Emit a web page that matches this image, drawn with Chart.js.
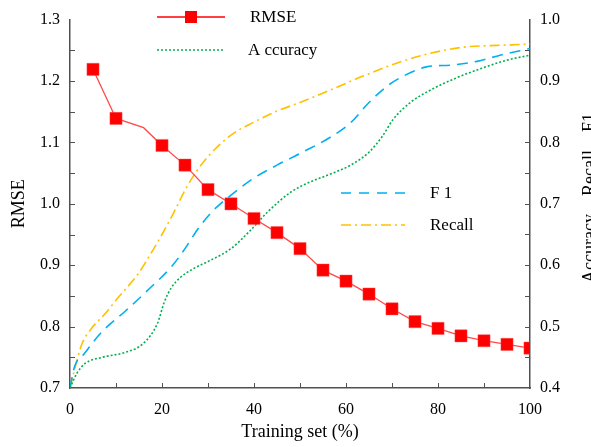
<!DOCTYPE html>
<html>
<head>
<meta charset="utf-8">
<script src="https://cdn.jsdelivr.net/npm/chart.js@4"></script>
<style>
  html, body { margin: 0; padding: 0; background: #fff; }
  canvas { display: block; }
</style>
</head>
<body>
<canvas id="chart" width="591" height="447"></canvas>
<script>
// RMSE (left axis)
const rmseX = [5, 10, 16, 20, 25, 30, 35, 40, 45, 50, 55, 60, 65, 70, 75, 80, 85, 90, 95, 100]
const rmseY = [1.219, 1.139, 1.124, 1.095, 1.063, 1.023, 1.0, 0.976, 0.953, 0.927, 0.892, 0.874, 0.853, 0.829, 0.808, 0.797, 0.785, 0.777, 0.771, 0.765]

// right axis curves
const accX = [0, 1.5, 3.3, 7, 12, 16, 19, 20.5, 22, 24, 27, 30, 35, 39, 43, 48, 52, 56.5, 61, 65, 68, 70.2, 74, 78.3, 84, 90, 95, 100]
const accY = [0.40, 0.424, 0.44, 0.45, 0.458, 0.473, 0.505, 0.54, 0.563, 0.58, 0.595, 0.606, 0.627, 0.655, 0.687, 0.719, 0.735, 0.748, 0.763, 0.784, 0.811, 0.837, 0.865, 0.885, 0.905, 0.922, 0.934, 0.942]

const f1X = [0, 1, 3, 7, 12, 17, 22, 25, 28, 31, 35, 40, 45, 50, 56.5, 61, 65, 69, 73, 77.5, 83, 88.5, 93.5, 100]
const f1Y = [0.40, 0.435, 0.455, 0.492, 0.525, 0.56, 0.597, 0.627, 0.661, 0.688, 0.714, 0.742, 0.763, 0.782, 0.808, 0.832, 0.865, 0.892, 0.91, 0.923, 0.926, 0.932, 0.942, 0.953]

const recallX = [0, 1, 2.5, 5, 7.5, 10, 15, 17.5, 20, 22.5, 25, 27.5, 30, 35, 40, 45, 50, 56.5, 63.7, 71, 78.3, 85.4, 92.8, 100]
const recallY = [0.40, 0.43, 0.47, 0.50, 0.52, 0.543, 0.588, 0.618, 0.65, 0.685, 0.722, 0.753, 0.777, 0.812, 0.833, 0.851, 0.865, 0.885, 0.908, 0.929, 0.945, 0.955, 0.958, 0.96]

const xTicks = [0, 20, 40, 60, 80, 100]
const rmseTicks = [0.7, 0.8, 0.9, 1.0, 1.1, 1.2, 1.3]
const rightTicks = [0.4, 0.5, 0.6, 0.7, 0.8, 0.9, 1.0]

const FONT = '"Liberation Serif", "Times New Roman", serif'
const RED = '#ff0000'
const GREEN = '#00b050'
const BLUE = '#00b0f0'
const GOLD = '#ffc000'
const AXIS = '#505050'

function pts(xs, ys) {
  return xs.map((x, i) => ({ x: x, y: ys[i] }))
}

// no marker on the kink point at 16
const rmseRadius = rmseX.map(x => x === 16 ? 0 : 8.6)

// inward minor/major tick marks and the custom legend + right title
const decorations = {
  id: 'decorations',
  afterDraw(chart) {
    const ctx = chart.ctx
    const area = chart.chartArea
    const sx = chart.scales.x, sy = chart.scales.y, sy1 = chart.scales.y1
    ctx.save()
    ctx.strokeStyle = AXIS
    ctx.lineWidth = 1
    ctx.beginPath()
    for (let v = 10; v < 100; v += 10) {
      const px = Math.round(sx.getPixelForValue(v)) + 0.5
      ctx.moveTo(px, area.bottom)
      ctx.lineTo(px, area.bottom - 5)
    }
    for (let i = 1; i < 12; i++) {
      const py = Math.round(sy.getPixelForValue(0.7 + i * 0.05)) + 0.5
      ctx.moveTo(area.left, py)
      ctx.lineTo(area.left + 5, py)
      const py1 = Math.round(sy1.getPixelForValue(0.4 + i * 0.05)) + 0.5
      ctx.moveTo(area.right, py1)
      ctx.lineTo(area.right - 5, py1)
    }
    ctx.stroke()

    // legend
    const items = [
      { label: 'RMSE', color: RED, dash: [], x1: 157, x2: 225, y: 17, tx: 250, marker: true, width: 1.3 },
      { label: 'A ccuracy', color: GREEN, dash: [2, 2], x1: 157, x2: 225, y: 50, tx: 248, width: 1.6 },
      { label: 'F 1', color: BLUE, dash: [10, 8], x1: 341, x2: 405, y: 193, tx: 430, width: 1.6 },
      { label: 'Recall', color: GOLD, dash: [10, 4, 2, 4], x1: 341, x2: 405, y: 225, tx: 430, width: 1.6 }
    ]
    items.forEach(it => {
      ctx.beginPath()
      ctx.setLineDash(it.dash)
      ctx.strokeStyle = it.color
      ctx.lineWidth = it.width
      ctx.moveTo(it.x1, it.y)
      ctx.lineTo(it.x2, it.y)
      ctx.stroke()
      ctx.setLineDash([])
      if (it.marker) {
        ctx.fillStyle = RED
        ctx.fillRect((it.x1 + it.x2) / 2 - 6, it.y - 6, 12, 12)
      }
      ctx.fillStyle = '#000'
      ctx.font = '17px ' + FONT
      ctx.textBaseline = 'middle'
      ctx.textAlign = 'left'
      ctx.fillText(it.label, it.tx, it.y + 1)
    })

    // right axis title, reads bottom to top
    ctx.translate(590, 198)
    ctx.rotate(-Math.PI / 2)
    ctx.textAlign = 'center'
    ctx.textBaseline = 'middle'
    ctx.fillStyle = '#000'
    ctx.font = '18px ' + FONT
    ctx.fillText('Accuracy、Recall、F1', 0, 0)
    ctx.restore()
  }
}

const tickFont = { family: FONT, size: 16 }
const titleFont = { family: FONT, size: 18 }

const data = {
  datasets: [
    {
      label: 'RMSE',
      data: pts(rmseX, rmseY),
      yAxisID: 'y',
      borderColor: '#ff4a4a',
      borderWidth: 1.3,
      pointStyle: 'rect',
      pointRadius: rmseRadius,
      pointBackgroundColor: RED,
      pointBorderColor: 'rgba(255,80,80,0.45)',
      pointBorderWidth: 1,
      tension: 0
    },
    {
      label: 'Accuracy',
      data: pts(accX, accY),
      yAxisID: 'y1',
      borderColor: GREEN,
      borderWidth: 1.6,
      borderDash: [2, 2],
      pointRadius: 0,
      cubicInterpolationMode: 'monotone'
    },
    {
      label: 'F1',
      data: pts(f1X, f1Y),
      yAxisID: 'y1',
      borderColor: BLUE,
      borderWidth: 1.6,
      borderDash: [11, 7],
      pointRadius: 0,
      cubicInterpolationMode: 'monotone'
    },
    {
      label: 'Recall',
      data: pts(recallX, recallY),
      yAxisID: 'y1',
      borderColor: GOLD,
      borderWidth: 1.6,
      borderDash: [10, 4, 2, 4],
      pointRadius: 0,
      cubicInterpolationMode: 'monotone'
    }
  ]
}

const config = {
  type: 'line',
  data: data,
  options: {
    responsive: false,
    animation: false,
    layout: { padding: { top: 16, left: 0, right: 0, bottom: 0 } },
    plugins: {
      legend: { display: false },
      tooltip: { enabled: false }
    },
    scales: {
      x: {
        type: 'linear',
        position: 'bottom',
        min: 0,
        max: 100,
        afterFit: s => { s.height = 59 },
        afterBuildTicks: s => { s.ticks = xTicks.map(v => ({ value: v })) },
        grid: { display: false, drawTicks: false },
        border: { color: AXIS, width: 1.5 },
        ticks: { font: tickFont, color: '#000', padding: 12, maxRotation: 0 },
        title: { display: true, text: 'Training set (%)', font: titleFont, color: '#000', padding: { bottom: 4 } }
      },
      y: {
        position: 'left',
        min: 0.7,
        max: 1.3,
        afterFit: s => { s.width = 70 },
        afterBuildTicks: s => { s.ticks = rmseTicks.map(v => ({ value: v })) },
        grid: { display: false, drawTicks: false },
        border: { color: AXIS, width: 1.5 },
        ticks: { font: tickFont, color: '#000', padding: 10, callback: v => v.toFixed(1) },
        title: { display: true, text: 'RMSE', font: titleFont, color: '#000', padding: { top: 8 } }
      },
      y1: {
        position: 'right',
        min: 0.4,
        max: 1.0,
        afterFit: s => { s.width = 61 },
        afterBuildTicks: s => { s.ticks = rightTicks.map(v => ({ value: v })) },
        grid: { display: false, drawTicks: false },
        border: { color: AXIS, width: 1.5 },
        ticks: { font: tickFont, color: '#000', padding: 10, callback: v => v.toFixed(1) }
      }
    }
  },
  plugins: [decorations]
}

new Chart(document.getElementById('chart'), config)
</script>
</body>
</html>
